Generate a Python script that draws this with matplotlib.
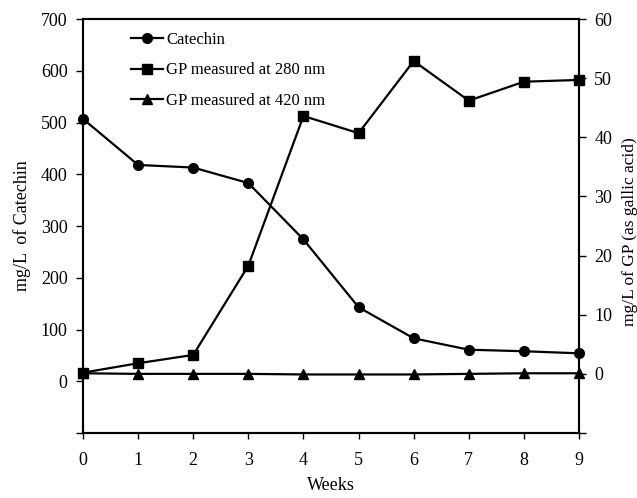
import numpy as np
import matplotlib
matplotlib.use("Agg")
import matplotlib.pyplot as plt

plt.rcParams['font.family'] = ['Liberation Serif', 'DejaVu Serif']

weeks = [0, 1, 2, 3, 4, 5, 6, 7, 8, 9]
catechin = [507, 418, 413, 383, 274, 143, 83, 61, 58, 54]
gp_280 = [0.2, 1.8, 3.2, 18.3, 43.6, 40.7, 52.9, 46.2, 49.4, 49.7]
gp_420 = [0.1, 0.0, 0.0, 0.0, -0.1, -0.1, -0.1, 0.0, 0.1, 0.1]

left_ticks = [-100, 0, 100, 200, 300, 400, 500, 600, 700]
right_ticks = [-10, 0, 10, 20, 30, 40, 50, 60]

fig = plt.figure(figsize=(6.37, 4.98), dpi=100)
ax = fig.add_axes([0.1303, 0.1305, 0.7787, 0.8313])
ax2 = ax.twinx()

l1, = ax.plot(weeks, catechin, color='black', lw=1.6, marker='o', ms=7,
              label='Catechin', clip_on=False, zorder=5)
l2, = ax2.plot(weeks, gp_280, color='black', lw=1.6, marker='s', ms=6.5,
               label='GP measured at 280 nm', clip_on=False, zorder=5)
l3, = ax2.plot(weeks, gp_420, color='black', lw=1.6, marker='^', ms=7,
               label='GP measured at 420 nm', clip_on=False, zorder=5)

ax.set_xlim(0, 9)
ax.set_ylim(-100, 700)
ax2.set_ylim(-10, 60)
ax.set_xticks(weeks)
ax.set_yticks(left_ticks)
ax.set_yticklabels(['' if t < 0 else str(t) for t in left_ticks])
ax2.set_yticks(right_ticks)
ax2.set_yticklabels(['' if t < 0 else str(t) for t in right_ticks])

ax.tick_params(axis='x', direction='out', length=4, width=1, pad=10, labelsize=13)
ax.tick_params(axis='y', direction='out', length=5, width=1, pad=6, labelsize=13)
ax2.tick_params(axis='y', direction='out', length=5, width=1, pad=6, labelsize=13)

for a in (ax, ax2):
    for s in a.spines.values():
        s.set_linewidth(1.5)

ax.set_xlabel('Weeks', fontsize=13)
ax.xaxis.set_label_coords(0.5, -0.106)
ax.set_ylabel('mg/L  of Catechin', fontsize=13)
ax.yaxis.set_label_coords(-0.105, 0.5)
ax2.set_ylabel('mg/L of GP (as gallic acid)', fontsize=12.5)
ax2.yaxis.set_label_coords(1.087, 0.486)

ax2.legend(handles=[l1, l2, l3], loc='upper left', bbox_to_anchor=(0.097, 0.968),
           frameon=False, fontsize=12, handlelength=1.9, handletextpad=0.2,
           labelspacing=0.85, borderpad=0, borderaxespad=0)

fig.savefig('out.png', dpi=100)
